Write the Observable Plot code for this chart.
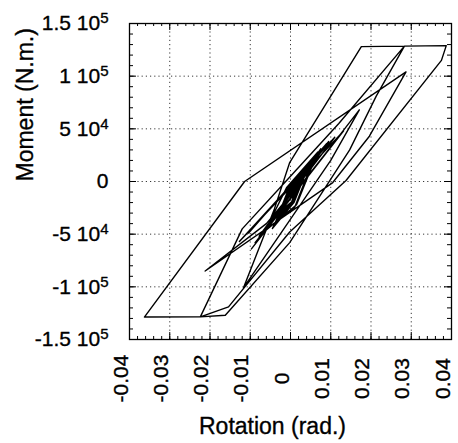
<!DOCTYPE html>
<html><head><meta charset="utf-8">
<script src="https://cdn.jsdelivr.net/npm/d3@7"></script>
<script src="https://cdn.jsdelivr.net/npm/@observablehq/plot@0.6"></script>
<style>body{margin:0;background:#fff}</style>
</head><body><div id="chart"></div>
<script>
// Hysteresis path (rotation in rad, moment in N.m)
const rotation = [0,
  0.0015, 0.0003, -0.0015, -0.0003,
  0.002, 0.0004, -0.002, -0.0004,
  0.0025, 0.0005, -0.0025, -0.0005,
  0.003, 0.0006, -0.003, -0.0006,
  0.0035, 0.0007, -0.0035, -0.0007,
  0.004, 0.0008, -0.004, -0.0008,
  0.0045, 0.0009, -0.0045, 0.0,
  0.006, 0.001, -0.0062, -0.001, 0.0068, 0.0015, -0.0066,
  0.0075, -0.007, 0.009, -0.0104, 0.0095, -0.0078, 0.011, -0.0127, 0.0125, -0.0088, 0.0132, -0.0097,
  0.0171, 0.010, -0.0117,
  -0.004, -0.0002, 0.0176, 0.0283,
  0.0213, 0.0147, -0.0002, -0.0162, -0.0224,
  -0.012, 0.0, 0.012, 0.0283, 0.0387,
  0.0375, 0.0138, -0.0002, -0.0154, -0.0224, -0.0363,
  -0.0114, 0.0287,
  0.0196, 0.0105, -0.0212,
  -0.006, 0.001];
const moment = [-15000,
  -5100, -19300, -24900, -10700,
  -1800, -19400, -28200, -10600,
  1500, -19500, -31500, -10500,
  4800, -19500, -34800, -10500,
  8100, -19700, -38100, -10400,
  11400, -19700, -41400, -10300,
  14700, -19800, -44700, -8000,
  24000, -25000, -46000, -6000, 28000, -22000, -48000,
  31000, -50000, 36000, -49000, 38000, -52000, 42000, -57000, 45000, -58000, 48000, -64000,
  68000, 20000, -101000,
  -26000, 18000, 128000, 128500,
  81000, 30000, -58000, -127000, -128500,
  -45000, 5000, 55000, 128500, 129000,
  115000, 1000, -48000, -119000, -128500, -128700,
  0, 104000,
  43000, -1000, -85000,
  -40000, -8000];
const xTicks = [-0.04, -0.03, -0.02, -0.01, 0, 0.01, 0.02, 0.03, 0.04];
const xTickLabels = ["-0.04", "-0.03", "-0.02", "-0.01", "0", "0.01", "0.02", "0.03", "0.04"];
const yTicks = [-150000, -100000, -50000, 0, 50000, 100000, 150000];
const yTickLabels = ["-1.5 10^5", "-1 10^5", "-5 10^4", "0", "5 10^4", "1 10^5", "1.5 10^5"];
const xLabel = "Rotation (rad.)";
const yLabel = "Moment (N.m.)";

const path = rotation.map((r, i) => ({r, m: moment[i]}));
const xMinor = d3.range(-40, 41, 2).map(v => v / 1000);
const yMinor = d3.range(-15, 16, 1).map(v => v * 10000);
const font = "Liberation Sans, Arial, Helvetica, sans-serif";
const W = 458, H = 443, ML = 129, MR = 7, MT = 23, MB = 104;
const fw = W - ML - MR, fh = H - MT - MB;
const tk = {stroke: "#000", strokeWidth: 1};
const txt = {fill: "#000", stroke: "#000", strokeWidth: 0.35};

const chart = Plot.plot({
  width: W, height: H,
  marginLeft: ML, marginRight: MR, marginTop: MT, marginBottom: MB,
  style: {fontFamily: font, background: "#fff", color: "#000"},
  x: {domain: [-0.04, 0.04], axis: null},
  y: {domain: [-150000, 150000], axis: null},
  marks: [
    Plot.gridX(xTicks, {stroke: "#222", strokeOpacity: 0.9, strokeDasharray: "1.2,3"}),
    Plot.gridY(yTicks, {stroke: "#222", strokeOpacity: 0.9, strokeDasharray: "1.2,3"}),
    // inward minor/major ticks on all four sides
    Plot.tickX(xMinor, {x: d => d, insetTop: fh - 3, ...tk}),
    Plot.tickX(xMinor, {x: d => d, insetBottom: fh - 3, ...tk}),
    Plot.tickX(xTicks, {x: d => d, insetTop: fh - 7, ...tk}),
    Plot.tickX(xTicks, {x: d => d, insetBottom: fh - 7, ...tk}),
    Plot.tickY(yMinor, {y: d => d, insetRight: fw - 4, ...tk}),
    Plot.tickY(yMinor, {y: d => d, insetLeft: fw - 4, ...tk}),
    Plot.tickY(yTicks, {y: d => d, insetRight: fw - 7, ...tk}),
    Plot.tickY(yTicks, {y: d => d, insetLeft: fw - 7, ...tk}),
    Plot.frame({stroke: "#000", strokeWidth: 1.3}),
    Plot.line(path, {x: "r", y: "m", stroke: "#000", strokeWidth: 1.4, curve: "linear"}),
    Plot.text(xTicks, {x: d => d, text: (d, i) => xTickLabels[i], frameAnchor: "bottom", dy: 39, dx: -2,
      rotate: -90, textAnchor: "middle", lineAnchor: "bottom", fontSize: 21, ...txt}),
    Plot.text(yTicks, {y: d => d, text: (d, i) => yTickLabels[i], frameAnchor: "left", dx: -21,
      textAnchor: "end", lineAnchor: "middle", fontSize: 21, ...txt}),
    Plot.text([xLabel], {frameAnchor: "bottom", dx: -18, dy: 87, fontSize: 23, lineAnchor: "middle", ...txt}),
    Plot.text([yLabel], {frameAnchor: "left", dx: -104, rotate: -90, fontSize: 23, lineAnchor: "middle", ...txt})
  ]
});
document.getElementById("chart").appendChild(chart);

// turn "a 10^b" labels into real superscripts
d3.select(chart).selectAll("text").each(function() {
  const t = this.textContent;
  const m = /^(.*) 10\^(\d)$/.exec(t);
  if (!m) return;
  const el = d3.select(this);
  el.text("");
  el.append("tspan").text(m[1] + " 10");
  el.append("tspan").attr("dy", "-0.45em").attr("font-size", "15").text(m[2]);
});
</script>
</body></html>
